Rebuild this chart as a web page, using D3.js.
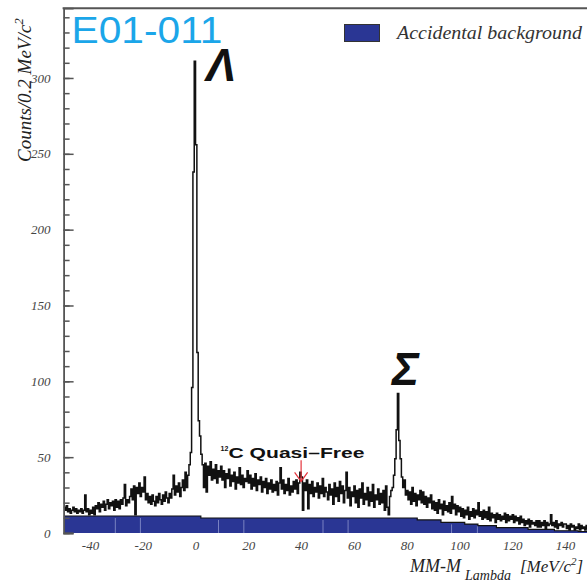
<!DOCTYPE html>
<html>
<head>
<meta charset="utf-8">
<script src="https://cdn.jsdelivr.net/npm/d3@7"></script>
<style>
  body { margin: 0; background: #fff; }
  svg { display: block; }
</style>
</head>
<body>
<script>
// Missing-mass spectrum, 0.5 MeV bins from -50 to 150 MeV
const binStart = -50;
const binWidth = 0.5;
const counts = [
  // -50 .. -40
  17,15,18,14,16,13,15,17,14,16,13,15,14,16,13,15,25,14,16,12,
  // -40 .. -30
  15,13,17,12,18,16,20,14,19,17,21,15,19,22,16,20,18,21,15,22,
  // -30 .. -20
  17,21,16,22,19,23,32,18,22,20,24,29,22,31,12,30,26,33,24,30,
  // -20 .. -10
  27,37,22,26,20,24,19,25,21,18,24,20,26,22,19,25,21,27,23,20,
  // -10 .. 0  (Lambda peak)
  26,23,29,38,25,31,27,33,24,30,35,28,40,30,38,45,53,96,238,311,
  // 0 .. 10
  256,119,74,64,52,45,30,46,27,44,38,47,35,42,36,45,33,41,37,44,
  // 10 .. 20
  35,41,30,39,36,42,31,38,34,40,29,37,33,43,32,38,30,36,34,41,
  // 20 .. 30
  33,38,29,36,31,39,28,35,32,37,27,34,30,36,26,33,29,35,27,32,
  // 30 .. 40
  28,34,25,33,43,29,35,26,32,28,36,25,31,27,34,29,35,26,33,40,
  // 40 .. 50
  37,15,33,28,35,16,32,26,34,24,30,27,33,23,31,26,36,24,30,27,
  // 50 .. 60
  22,32,25,29,19,33,24,30,21,34,26,31,20,28,40,23,30,18,27,24,
  // 60 .. 70
  31,20,28,17,29,23,33,19,26,22,30,18,27,21,32,17,25,22,29,19,
  // 70 .. 80  (Sigma peak)
  26,20,28,15,31,17,12,24,28,30,38,49,68,92,61,49,37,30,35,25,
  // 80 .. 90
  28,22,27,19,30,21,26,18,25,22,28,20,27,19,24,17,23,20,25,16,
  // 90 .. 100
  21,15,20,13,22,16,19,12,21,15,18,14,20,13,24,16,19,12,18,14,
  // 100 .. 110
  17,11,16,10,15,12,17,9,14,11,16,10,15,12,20,11,14,9,15,10,
  // 110 .. 120
  14,9,17,8,13,10,12,7,13,9,12,8,11,9,13,7,12,8,11,9,
  // 120 .. 130
  12,7,11,8,10,6,11,7,9,5,8,6,9,4,8,6,7,5,8,4,
  // 130 .. 140
  8,4,7,5,8,3,7,5,6,12,5,7,4,8,3,6,5,7,4,6,
  // 140 .. 150
  6,3,5,2,6,4,5,2,4,3,6,2,5,3,4,2,5,3,4,2
];

// Accidental background, variable-width steps
const bgEdges  = [-50, 2, 84, 93, 102, 107, 114, 126, 136, 145, 150];
const bgCounts = [11.2, 9.9, 8.6, 7.0, 5.9, 4.8, 3.5, 2.4, 1.5, 1.0];

// Light seams inside the background fill
const bgSeams = [-30.4, -20.9, 8.7, 18.3, 48.3, 57.8, 97, 106.8];

const yMajorTicks = [0, 50, 100, 150, 200, 250, 300];
const yMinorTicks = d3.range(0, 350, 10);
const xTickValues = [-40, -20, 0, 20, 40, 60, 80, 100, 120, 140];

const quasiFreeAt = 40;          // MeV, arrow position
const quasiFreeArrow = [48, 34]; // counts, arrow tail -> tip

const W = 587, H = 584;
const BLUE = "#2a3694";
const AXIS = "#555";

const svg = d3.select("body").append("svg")
  .attr("width", W).attr("height", H);

const x = d3.scaleLinear().domain([-50, 150]).range([63.6, 591.4]);
const y = d3.scaleLinear().domain([0, 346]).range([533, 8.2]);

svg.append("clipPath").attr("id", "plot")
  .append("rect")
  .attr("x", x.range()[0]).attr("y", y.range()[1])
  .attr("width", x.range()[1] - x.range()[0])
  .attr("height", y.range()[0] - y.range()[1]);

const plot = svg.append("g").attr("clip-path", "url(#plot)");

// background histogram
const bgPts = bgCounts.map((c, i) => [bgEdges[i], c]);
bgPts.push([bgEdges[bgEdges.length - 1], bgCounts[bgCounts.length - 1]]);

plot.append("path")
  .datum(bgPts)
  .attr("fill", BLUE)
  .attr("d", d3.area().curve(d3.curveStepAfter)
    .x(d => x(d[0])).y0(y(0)).y1(d => y(d[1])));

plot.selectAll("line.seam")
  .data(bgSeams)
  .join("line")
  .attr("class", "seam")
  .attr("x1", d => x(d)).attr("x2", d => x(d))
  .attr("y1", y(0))
  .attr("y2", d => y(bgCounts[d3.bisectRight(bgEdges, d) - 1]) + 2)
  .attr("stroke", "rgba(200,206,240,0.5)")
  .attr("stroke-width", 1);

plot.append("path")
  .datum(bgPts)
  .attr("fill", "none")
  .attr("stroke", "#111")
  .attr("stroke-width", 1.2)
  .attr("d", d3.line().curve(d3.curveStepAfter)
    .x(d => x(d[0])).y(d => y(d[1])));

// data histogram
const pts = counts.map((c, i) => [binStart + i * binWidth, c]);
pts.push([binStart + counts.length * binWidth, counts[counts.length - 1]]);

plot.append("path")
  .datum(pts)
  .attr("fill", "none")
  .attr("stroke", "#111")
  .attr("stroke-width", 1.5)
  .attr("d", d3.line().curve(d3.curveStepAfter)
    .x(d => x(d[0])).y(d => y(d[1])));

// frame: top line and left axis
svg.append("line")
  .attr("x1", x.range()[0] - 1).attr("x2", W)
  .attr("y1", y.range()[1]).attr("y2", y.range()[1])
  .attr("stroke", AXIS).attr("stroke-width", 2);

const serif = "'Liberation Serif', 'DejaVu Serif', serif";

// minor ticks
svg.append("g")
  .attr("transform", `translate(${x.range()[0]},0)`)
  .call(d3.axisRight(y).tickValues(yMinorTicks).tickSize(6).tickFormat(""))
  .call(g => g.select(".domain").remove())
  .call(g => g.selectAll("line").attr("stroke", AXIS).attr("stroke-width", 1.5));

// major ticks
svg.append("g")
  .attr("transform", `translate(${x.range()[0]},0)`)
  .call(d3.axisRight(y).tickValues(yMajorTicks).tickSize(10).tickFormat(""))
  .call(g => g.select(".domain").attr("stroke", AXIS).attr("stroke-width", 1.8))
  .call(g => g.selectAll("line").attr("stroke", AXIS).attr("stroke-width", 1.5));

// y labels
svg.append("g")
  .attr("transform", `translate(${x.range()[0]},0)`)
  .call(d3.axisLeft(y).tickValues(yMajorTicks).tickSize(0).tickPadding(13)
    .tickFormat(d => String(d)))
  .call(g => g.select(".domain").remove())
  .call(g => g.selectAll("text")
    .attr("font-family", serif).attr("font-style", "italic")
    .attr("font-size", 13).attr("fill", "#444"));

// x labels
svg.append("g")
  .attr("transform", `translate(0,${y(0)})`)
  .call(d3.axisBottom(x).tickValues(xTickValues).tickSize(0).tickPadding(8)
    .tickFormat(d => String(d)))
  .call(g => g.select(".domain").remove())
  .call(g => g.selectAll("text")
    .attr("font-family", serif).attr("font-style", "italic")
    .attr("font-size", 13).attr("fill", "#444"));

// y title
const yt = svg.append("text")
  .attr("transform", "translate(31,162) rotate(-90)")
  .attr("font-family", serif).attr("font-style", "italic")
  .attr("font-size", 19).attr("fill", "#222");
yt.append("tspan").text("Counts/0.2 MeV/c");
yt.append("tspan").attr("dy", -8).attr("font-size", 13).text("2");

// x title
const xt = svg.append("text")
  .attr("y", 572)
  .attr("font-family", serif).attr("font-style", "italic")
  .attr("fill", "#222");
xt.append("tspan").attr("x", 410).attr("font-size", 18).text("MM-M");
xt.append("tspan").attr("x", 465).attr("dy", 8).attr("font-size", 14).text("Lambda");
xt.append("tspan").attr("x", 520).attr("dy", -8).attr("font-size", 17).text("[MeV/c");
xt.append("tspan").attr("dy", -7).attr("font-size", 11).text("2");
xt.append("tspan").attr("dy", 7).attr("font-size", 17).text("]");

// experiment tag
svg.append("text")
  .attr("x", 71.5).attr("y", 42.7)
  .attr("font-family", "'Liberation Sans', Arial, sans-serif")
  .attr("font-size", 37).attr("fill", "#1ba6e9")
  .attr("textLength", 151).attr("lengthAdjust", "spacingAndGlyphs")
  .text("E01-011");

// peak labels
const sans = "'Liberation Sans', 'DejaVu Sans', Arial, sans-serif";
svg.append("text")
  .attr("x", 206).attr("y", 81)
  .attr("font-family", sans).attr("font-weight", "bold").attr("font-style", "italic")
  .attr("font-size", 46).attr("fill", "#111")
  .attr("textLength", 30).attr("lengthAdjust", "spacingAndGlyphs")
  .text("Λ");

svg.append("text")
  .attr("x", 392).attr("y", 385)
  .attr("font-family", sans).attr("font-weight", "bold").attr("font-style", "italic")
  .attr("font-size", 46).attr("fill", "#111")
  .attr("textLength", 27).attr("lengthAdjust", "spacingAndGlyphs")
  .text("Σ");

// quasi-free annotation
svg.append("text")
  .attr("x", 220.5).attr("y", 451)
  .attr("font-family", sans).attr("font-weight", "bold")
  .attr("font-size", 7).attr("fill", "#111")
  .text("12");
svg.append("text")
  .attr("x", 228.5).attr("y", 458)
  .attr("font-family", sans).attr("font-weight", "bold")
  .attr("font-size", 15).attr("fill", "#111")
  .attr("textLength", 136).attr("lengthAdjust", "spacingAndGlyphs")
  .text("C Quasi–Free");

const ax = x(quasiFreeAt);
const yTail = y(quasiFreeArrow[0]), yTip = y(quasiFreeArrow[1]);
const arrow = svg.append("g").attr("stroke", "#e5333c").attr("stroke-width", 1.2)
  .attr("fill", "none");
arrow.append("line").attr("x1", ax).attr("x2", ax).attr("y1", yTail).attr("y2", yTip);
arrow.append("path")
  .attr("d", `M${ax - 6.5},${yTip - 9} L${ax},${yTip} L${ax + 6.5},${yTip - 9}`);

// legend
svg.append("rect")
  .attr("x", 344.5).attr("y", 24.5).attr("width", 35).attr("height", 17)
  .attr("fill", BLUE).attr("stroke", "#333").attr("stroke-width", 1);
svg.append("text")
  .attr("x", 397).attr("y", 39)
  .attr("font-family", serif).attr("font-style", "italic")
  .attr("font-size", 19.5).attr("fill", "#333")
  .attr("textLength", 185).attr("lengthAdjust", "spacingAndGlyphs")
  .text("Accidental background");
</script>
</body>
</html>
